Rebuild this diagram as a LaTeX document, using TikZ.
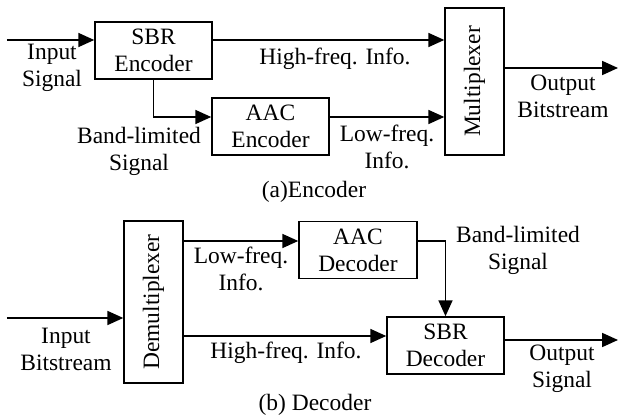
\documentclass[tikz,border=0pt]{standalone}
\usepackage{fontspec}
\setmainfont{Liberation Serif}
\usetikzlibrary{arrows.meta,calc,positioning}

\begin{document}
\begin{tikzpicture}
	[x=0.533pt,y=-0.533pt,line width=0.8pt,>={Triangle[length=8.5pt,width=7.5pt]},
	every node/.style={font=\fontsize{12.5}{14.4}\selectfont,align=center,inner sep=0pt},
	blk/.style={draw,line width=0.8pt,minimum width=62.4pt,minimum height=30.4pt}]
	\useasboundingbox (0,0) rectangle (618,417);

	% encoder
	\node[blk] (sbrE) at (153.5,50.5) {SBR\\Encoder};
	\node[blk] (aacE) at (270.5,126.5) {AAC\\Encoder};
	\node[blk,minimum width=31.4pt,minimum height=78.4pt] (mux) at (474.5,81.5)
		{\rotatebox{90}{Multiplexer}};
	\coordinate (inE) at (7,40);
	\coordinate (loE) at (0,117);
	\coordinate (outE) at (618,68);

	\draw[->] (inE) -- (inE -| sbrE.west);
	\draw[->] (inE -| sbrE.east) -- (inE -| mux.west);
	\draw[->] (sbrE.south) |- (loE -| aacE.west);
	\draw[->] (loE -| aacE.east) -- (loE -| mux.west);
	\draw[->] (outE -| mux.east) -- (outE);

	% decoder
	\node[blk,minimum width=31.4pt,minimum height=86.3pt] (demux) at (153.5,302)
		{\rotatebox{90}{Demultiplexer}};
	\node[blk,minimum width=62.9pt] (aacD) at (358,250) {AAC\\Decoder};
	\node[blk] (sbrD) at (445.5,345.5) {SBR\\Decoder};
	\coordinate (inD) at (7,318);
	\coordinate (loD) at (0,241);
	\coordinate (hiD) at (0,336);
	\coordinate (outD) at (618,340);

	\draw[->] (inD) -- (inD -| demux.west);
	\draw[->] (loD -| demux.east) -- (loD -| aacD.west);
	\draw[->] (loD -| aacD.east) -| (sbrD.north);
	\draw[->] (hiD -| demux.east) -- (hiD -| sbrD.west);
	\draw[->] (outD -| sbrD.east) -- (outD);

	% signal labels and captions
	\foreach \nm/\x/\y/\txt in {
		inEtxt/52/68/{Input\\Signal}, hiEtxt/335/59/{High-freq. Info.},
		bandEtxt/139/151/{Band-limited\\Signal}, loEtxt/387/147/{Low-freq.\\Info.},
		outEtxt/563/96/{Output\\Bitstream}, capE/314/192/{(a)Encoder},
		inDtxt/66/349/{Input\\Bitstream}, loDtxt/241/269/{Low-freq.\\Info.},
		bandDtxt/518/250/{Band-limited\\Signal}, hiDtxt/286/353/{High-freq. Info.},
		outDtxt/562/369/{Output\\Signal}, capD/315/405/{(b) Decoder}}
		\node (\nm) at (\x,\y) {\txt};
\end{tikzpicture}
\end{document}
